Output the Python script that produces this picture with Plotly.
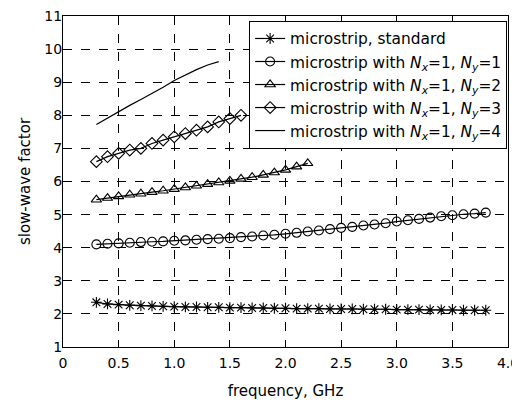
import plotly.graph_objects as go

freq_long = [round(0.3 + 0.1 * i, 1) for i in range(36)]   # 0.3 .. 3.8
freq_ny2 = [round(0.3 + 0.1 * i, 1) for i in range(20)]    # 0.3 .. 2.2
freq_ny3 = [round(0.3 + 0.1 * i, 1) for i in range(14)]    # 0.3 .. 1.6
freq_ny4 = [0.3, 0.4, 0.5, 0.6, 0.7, 0.8, 0.9, 1.0, 1.1, 1.2, 1.3, 1.4]

swf_standard = [2.35, 2.30, 2.28, 2.26, 2.25, 2.24, 2.23, 2.22, 2.21, 2.21, 2.20, 2.20,
                2.19, 2.19, 2.18, 2.18, 2.17, 2.17, 2.16, 2.16, 2.16, 2.15, 2.15, 2.15,
                2.14, 2.14, 2.14, 2.13, 2.13, 2.13, 2.12, 2.12, 2.12, 2.11, 2.11, 2.11]
swf_ny1 = [4.10, 4.12, 4.13, 4.15, 4.17, 4.18, 4.19, 4.21, 4.22, 4.24, 4.26, 4.27,
           4.29, 4.32, 4.34, 4.37, 4.39, 4.42, 4.45, 4.49, 4.52, 4.56, 4.60, 4.63,
           4.67, 4.70, 4.74, 4.79, 4.83, 4.87, 4.91, 4.95, 4.98, 5.01, 5.03, 5.06]
swf_ny2 = [5.45, 5.50, 5.55, 5.60, 5.63, 5.68, 5.72, 5.77, 5.82, 5.87, 5.92, 5.97,
           6.02, 6.08, 6.13, 6.20, 6.27, 6.35, 6.45, 6.55]
swf_ny3 = [6.60, 6.75, 6.85, 6.95, 7.00, 7.15, 7.25, 7.35, 7.45, 7.55, 7.65, 7.80,
           7.90, 8.00]
swf_ny4 = [7.72, 7.92, 8.12, 8.30, 8.48, 8.66, 8.85, 9.05, 9.22, 9.38, 9.52, 9.62]

x_ticks = [0, 0.5, 1.0, 1.5, 2.0, 2.5, 3.0, 3.5, 4.0]
x_tick_labels = ["0", "0.5", "1.0", "1.5", "2.0", "2.5", "3.0", "3.5", "4.0"]
y_ticks = [1, 2, 3, 4, 5, 6, 7, 8, 9, 10, 11]

names = [
    "microstrip, standard",
    "microstrip with <i>N</i><sub><i>x</i></sub>=1, <i>N</i><sub><i>y</i></sub>=1",
    "microstrip with <i>N</i><sub><i>x</i></sub>=1, <i>N</i><sub><i>y</i></sub>=2",
    "microstrip with <i>N</i><sub><i>x</i></sub>=1, <i>N</i><sub><i>y</i></sub>=3",
    "microstrip with <i>N</i><sub><i>x</i></sub>=1, <i>N</i><sub><i>y</i></sub>=4",
]

FONT = "DejaVu Sans, Liberation Sans, Arial, sans-serif"

fig = go.Figure()
series = [
    (freq_long, swf_standard, "asterisk-open", "lines+markers"),
    (freq_long, swf_ny1, "circle-open", "lines+markers"),
    (freq_ny2, swf_ny2, "triangle-up-open", "lines+markers"),
    (freq_ny3, swf_ny3, "diamond-open", "lines+markers"),
    (freq_ny4, swf_ny4, None, "lines"),
]
for i, ((xs, ys, sym, mode), name) in enumerate(zip(series, names)):
    kw = dict(x=xs, y=ys, mode=mode, name=name, legendgroup=f"g{i}",
              line=dict(color="black", width=1.2))
    if sym:
        kw["marker"] = dict(symbol=sym, size=9, color="black",
                            line=dict(color="black", width=1.1))
    fig.add_trace(go.Scatter(**kw))

axis_common = dict(
    showline=True, linecolor="black", linewidth=1.2, mirror=True,
    showgrid=True, gridcolor="black", gridwidth=1, griddash="dash",
    zeroline=False, ticks="", automargin=False, ticklabeloverflow="allow",
    tickfont=dict(size=14, color="black", family=FONT),
)
fig.update_xaxes(range=[0, 4.0], tickvals=x_ticks, ticktext=x_tick_labels,
                 ticklabelstandoff=3,
                 title=dict(text="frequency, GHz", font=dict(size=15, color="black", family=FONT),
                            standoff=15),
                 **axis_common)
fig.update_yaxes(range=[1, 11], tickvals=y_ticks,
                 ticklabelstandoff=-3,
                 title=dict(text="slow-wave factor", font=dict(size=15, color="black", family=FONT),
                            standoff=10),
                 **axis_common)

# page body has an 8px margin, so the figure is offset by 8px
fig.update_layout(
    width=512, height=392,
    margin=dict(l=55, r=12, t=8, b=53),
    paper_bgcolor="white", plot_bgcolor="white",
    font=dict(family=FONT, color="black"),
    showlegend=True,
    legend=dict(x=0.998, y=0.985, xanchor="right", yanchor="top",
                bgcolor="white", bordercolor="black", borderwidth=1,
                font=dict(size=15.4, color="black", family=FONT), tracegroupgap=0),
)

# let the right-most tick label ("4.0") draw past the svg edge instead of being clipped
post = ("document.querySelectorAll('svg.main-svg').forEach(function(s){s.style.overflow='visible';});"
        "document.querySelectorAll('.svg-container').forEach(function(s){s.style.overflow='visible';});")

fig.write_html("out.html", post_script=post)
